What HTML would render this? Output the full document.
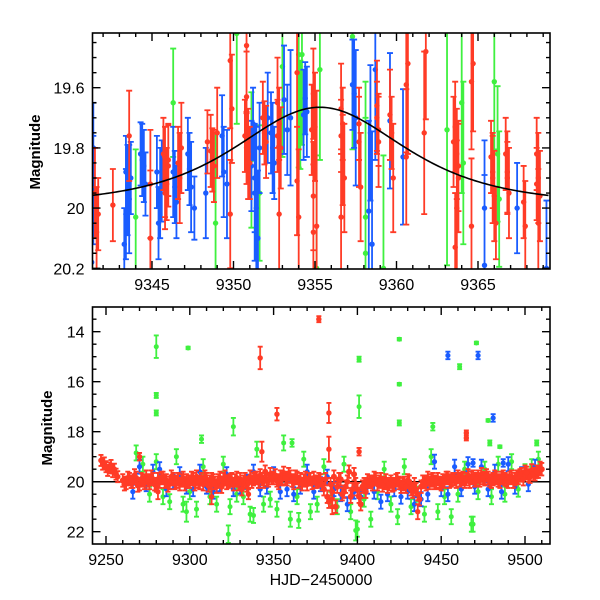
<!DOCTYPE html>
<html><head><meta charset="utf-8"><style>
html,body{margin:0;padding:0;background:#fff;}
svg{display:block;font-family:"Liberation Sans",sans-serif;}
</style></head><body>
<svg id="chart" width="600" height="600" viewBox="0 0 600 600">
<defs>
<clipPath id="clipTop"><rect x="92.5" y="33" width="457.5" height="236"/></clipPath>
<clipPath id="clipBot"><rect x="92.5" y="307" width="457.5" height="237"/></clipPath>
</defs>
<g id="top"></g>
<g id="bot"></g>
</svg>
<script>
// ---------- TOP PANEL DATA ----------
const topBlueT=[9341.4,9341.4,9341.3,9343.4,9343.5,9343.4,9343.6,9343.3,9344.3,9344.5,9344.6,9345.3,9345.5,9345.4,9346.3,9346.5,9347.2,9347.4,9347.6,9348.3,9349.3,9349.4,9349.6,9351.1,9351.3,9351.4,9351.2,9351.6,9352.3,9352.5,9352.1,9353.1,9353.3,9353.5,9354.3,9354.4,9354.5,9357.3,9357.4,9357.5,9358.7,9358.4,9358.3,9358.5,9359.6,9360.4,9365.4,9365.4,9367.4,9369.2,9343.7,9344.4,9345.6,9346.4,9347.3,9351.5,9351.3,9352.4];
const topBlueM=[19.80,19.94,20.18,19.88,19.94,20.02,19.97,20.12,19.82,19.86,19.92,19.88,19.95,20.05,19.88,19.98,19.82,19.93,20.00,19.95,19.76,19.88,19.92,19.86,19.95,20.00,19.72,19.80,19.75,19.85,19.70,19.64,19.74,19.70,19.69,19.635,19.68,19.59,19.62,19.70,19.54,19.75,20.01,20.12,19.71,19.83,20.00,20.19,20.00,20.20,19.90,19.84,19.91,19.93,19.87,20.10,19.90,19.80];
const topBlueE=[0.10,0.12,0.15,0.08,0.10,0.10,0.12,0.08,0.07,0.08,0.07,0.08,0.10,0.08,0.10,0.08,0.08,0.10,0.07,0.10,0.09,0.10,0.12,0.10,0.15,0.18,0.08,0.10,0.09,0.08,0.10,0.12,0.10,0.15,0.10,0.08,0.10,0.10,0.12,0.15,0.20,0.15,0.20,0.25,0.15,0.15,0.15,0.20,0.10,0.15,0.08,0.08,0.09,0.08,0.08,0.15,0.12,0.10];
const topRedT=[9341.6,9341.7,9341.5,9342.6,9343.6,9344.9,9344.9,9345.7,9345.8,9345.9,9346.0,9346.7,9346.6,9346.8,9348.4,9348.6,9348.8,9349.0,9349.8,9349.8,9349.9,9350.8,9350.8,9350.7,9350.9,9351.0,9351.8,9351.9,9352.0,9352.7,9352.8,9352.9,9352.8,9353.9,9353.9,9354.0,9354.9,9354.9,9354.8,9354.9,9355.0,9355.1,9356.6,9356.6,9356.7,9356.6,9356.8,9357.7,9357.7,9357.8,9358.8,9358.8,9358.9,9359.6,9359.7,9359.8,9360.6,9360.7,9360.6,9361.8,9361.7,9363.6,9363.7,9363.8,9363.7,9363.6,9364.6,9364.7,9364.6,9365.8,9365.9,9366.0,9366.1,9366.7,9366.8,9366.9,9367.9,9367.8,9368.6,9368.7,9368.8,9368.7,9345.8,9346.0,9348.7,9350.8,9352.7,9356.7,9358.9,9363.8,9363.5,9365.9,9366.8,9368.6];
const topRedM=[20.08,20.02,19.95,19.99,19.76,20.10,19.92,19.82,19.88,19.92,19.86,19.90,19.85,19.80,19.78,19.81,19.86,19.75,19.51,20.02,19.67,19.46,19.63,19.76,19.82,19.85,19.70,19.75,19.78,19.65,19.72,19.80,20.02,19.55,19.91,20.03,19.96,20.08,19.74,19.62,19.73,20.06,19.76,19.67,19.84,20.03,19.90,19.72,19.78,19.93,19.66,19.70,19.78,19.69,19.75,19.90,19.59,19.52,19.83,19.48,19.75,19.73,19.82,19.90,20.00,20.13,19.58,19.52,20.06,19.83,19.90,19.96,20.05,19.82,19.88,19.95,20.06,19.98,19.82,19.90,19.96,20.05,19.95,19.84,19.84,19.80,19.76,19.72,19.74,19.86,19.78,19.88,19.90,19.92];
const topRedE=[0.10,0.08,0.10,0.08,0.10,0.15,0.12,0.08,0.10,0.08,0.09,0.10,0.08,0.10,0.07,0.08,0.08,0.10,0.15,0.12,0.12,0.15,0.10,0.08,0.10,0.08,0.08,0.07,0.08,0.10,0.08,0.09,0.15,0.12,0.12,0.15,0.12,0.15,0.10,0.10,0.12,0.30,0.08,0.10,0.10,0.15,0.12,0.08,0.10,0.12,0.10,0.08,0.10,0.10,0.08,0.12,0.15,0.20,0.15,0.15,0.18,0.10,0.10,0.12,0.15,0.12,0.15,0.15,0.15,0.08,0.10,0.10,0.08,0.08,0.09,0.10,0.10,0.08,0.08,0.10,0.10,0.12,0.08,0.08,0.07,0.08,0.08,0.08,0.08,0.10,0.10,0.08,0.08,0.08];
const topGreenT=[9344.0,9346.3,9348.9,9350.2,9351.1,9351.6,9353.0,9354.0,9354.1,9355.1,9354.2,9355.3,9357.3,9358.1,9358.1,9359.2,9363.1,9364.0,9364.1,9366.0,9366.2,9366.3];
const topGreenM=[20.03,19.65,20.05,19.42,19.84,19.95,19.53,19.49,19.69,20.20,19.49,19.54,19.43,20.03,20.15,20.20,19.74,19.65,19.85,19.58,19.82,19.97];
const topGreenE=[0.15,0.12,0.20,0.20,0.15,0.15,0.20,0.25,0.12,0.25,0.20,0.20,0.25,0.30,0.30,0.25,0.30,0.20,0.18,0.15,0.15,0.15];

// ---------- BOTTOM PANEL DATA ----------
const botRedRampT=[9247,9248,9249,9250,9251,9252,9253,9254,9255,9256,9257];
const botRedRampM=[19.15,19.3,19.25,19.4,19.55,19.45,19.35,19.6,19.5,19.7,19.8];
const botRedAT=[];for(let t=9260;t<=9510;t+=2)botRedAT.push(t);
const botRedAM=[19.95,20.05,19.9,20.0,19.85,20.1,19.95,19.8,20.05,19.9,20.15,20.0,19.85,19.95,20.05,19.9,20.0,20.1,19.85,19.95,
20.0,19.9,19.8,20.05,20.1,19.9,20.0,19.95,20.2,19.85,19.9,20.05,19.95,20.1,19.85,19.9,20.0,20.15,19.8,19.9,
19.85,19.75,20.0,19.9,19.7,19.85,19.95,19.8,19.65,19.9,19.8,20.05,19.85,19.9,19.95,20.1,19.9,19.85,20.0,19.95,
20.3,20.6,20.1,19.8,20.2,19.9,20.4,20.0,20.6,19.7,20.3,20.9,20.1,19.95,20.0,19.85,20.1,19.9,20.05,20.2,
20.0,20.1,19.9,20.2,20.05,19.95,20.3,20.1,20.5,20.2,20.0,19.85,19.95,20.05,19.9,20.1,20.0,19.85,19.95,19.9,
19.8,19.9,20.0,19.75,19.85,19.95,19.8,19.7,19.9,19.85,20.0,19.8,19.95,19.85,19.9,20.0,19.8,19.9,19.85,19.7,
19.6,19.75,19.55,19.7,19.6,19.5];
const botRedBT=[];for(let t=9261;t<=9509;t+=2)botRedBT.push(t);
const botRedBM=[20.1,19.85,20.0,19.75,20.15,19.9,20.05,19.95,19.8,20.1,19.9,19.85,20.0,20.15,19.8,20.05,19.9,19.95,20.1,20.0,
19.85,20.1,20.0,19.9,19.8,20.15,19.9,20.05,19.95,20.2,19.8,20.0,19.9,19.95,20.1,20.3,19.9,20.05,20.0,19.85,
20.0,19.9,19.6,19.95,19.85,19.75,20.05,19.9,19.85,19.7,19.95,19.8,20.0,20.1,19.85,19.9,20.05,20.0,19.9,20.1,
19.9,20.8,20.4,21.0,19.9,20.5,20.2,19.6,20.3,20.1,20.6,20.2,20.4,20.0,20.1,19.9,20.0,20.15,19.95,20.1,
20.15,19.95,20.05,20.1,20.2,20.0,20.4,20.3,20.7,20.0,20.1,20.05,19.9,20.0,20.05,19.95,19.85,20.0,19.9,20.0,
19.95,19.85,19.9,20.0,19.8,19.9,19.95,19.85,19.75,19.95,19.9,19.85,20.0,19.8,19.95,19.85,20.0,19.8,19.75,19.9,
19.65,19.8,19.7,19.6,19.45];
const botRedOutT=[9377,9342,9352,9383,9383,9343,9465,9465,9401,9436,9385,9270,9281,9313,9335];
const botRedOutM=[13.5,15.05,17.3,17.25,18.7,18.8,18.05,18.25,18.8,21.2,21.0,19.0,20.4,20.6,20.5];
const botRedOutE=[0.12,0.45,0.25,0.4,0.5,0.4,0.1,0.1,0.15,0.3,0.3,0.15,0.3,0.3,0.2];
const botBlueT=[];for(let t=9266;t<=9506;t+=4)botBlueT.push(t);
const botBlueM=[20.4,19.4,20.1,19.6,19.5,20.3,20.0,19.7,20.2,20.3,
19.6,20.2,20.4,20.1,19.7,20.3,20.2,20.0,19.6,20.3,
20.2,19.7,20.4,20.3,20.5,20.2,19.6,20.4,20.1,19.8,
20.3,20.5,20.9,20.4,20.6,20.2,20.4,20.8,20.5,20.3,
20.6,20.4,20.9,20.7,20.5,19.2,20.3,20.5,19.4,20.3,
19.3,20.2,19.4,20.3,19.6,20.4,19.3,20.2,19.7,20.1,19.4];
const botBlueOutT=[9454,9472,9481,9469,9487];
const botBlueOutM=[14.95,14.95,17.45,19.25,19.25];
const botGreenT=[];for(let t=9268;t<=9508;t+=4)botGreenT.push(t);
const botGreenM=[18.85,19.3,20.5,19.2,20.6,20.8,19.0,20.9,20.4,21.1,
19.4,20.6,20.9,19.3,21.0,20.5,20.6,21.3,18.7,20.9,
20.7,21.1,18.45,21.5,20.6,19.1,21.2,20.9,19.4,20.7,
21.0,19.3,21.2,21.9,20.7,21.5,20.4,19.5,20.9,21.4,
19.4,21.0,20.5,21.3,19.0,21.2,20.6,21.4,20.5,19.5,
21.7,20.4,19.5,20.6,19.3,20.5,19.2,20.3,19.6,19.4,19.1];
const botGreenOutT=[9280,9280,9280,9299,9307,9326,9361,9401,9401,9425,9425,9425,9445,9461,9471,9478,9479,9485,9507,9323,9399,9469,9365,9338,9298];
const botGreenOutM=[14.6,16.55,17.25,14.65,18.3,17.8,18.45,15.1,17.0,14.3,16.1,17.65,17.8,15.4,14.45,17.55,18.45,18.6,18.45,22.1,21.95,21.7,21.55,21.35,21.2];
const botGreenOutE=[0.45,0.1,0.1,0.05,0.15,0.35,0.15,0.1,0.45,0.05,0.05,0.1,0.15,0.1,0.05,0.05,0.1,0.05,0.1,0.35,0.4,0.3,0.3,0.3,0.4];

const topXTicks=[9345,9350,9355,9360,9365];
const topYTicks=[19.6,19.8,20,20.2];
const botXTicks=[9250,9300,9350,9400,9450,9500];
const botYTicks=[14,16,18,20,22];

const RED='#ff3b26',BLUE='#1a5cff',GREEN='#3ff03f';
const NS='http://www.w3.org/2000/svg';
function mk(tag,attrs,parent){const e=document.createElementNS(NS,tag);for(const k in attrs)e.setAttribute(k,attrs[k]);parent.appendChild(e);return e;}

const xTop=t=>152+(t-9345)*16.3;
const yTop=m=>87.7+(m-19.6)*301;
const xBot=t=>106+(t-9250)*1.676;
const yBot=m=>481.7+(m-20)*25;
const TOP_ERR_SCALE=1.5;

const gTop=document.getElementById('top');
const gBot=document.getElementById('bot');

function frame(g,x0,y0,x1,y1,xs,ys,xMin,xMax,xMaj,xMin_,yMin,yMax,yMaj,yMinStep,xLabels,yLabels,name){
  const ax=mk('g',{},g);
  
  
  let d='';
  for(let v=Math.ceil(xMin/xMin_)*xMin_;v<=xMax+1e-9;v+=xMin_){
    const x=xs(v);if(x<x0||x>x1)continue;
    const maj=Math.abs(v/xMaj-Math.round(v/xMaj))<1e-6;const L=maj?8:4;
    d+=`M${x},${y1}v${-L}M${x},${y0}v${L}`;
  }
  for(let v=Math.ceil(yMin/yMinStep)*yMinStep;v<=yMax+1e-9;v+=yMinStep){
    const y=ys(v);if(y<y0||y>y1)continue;
    const maj=Math.abs(v/yMaj-Math.round(v/yMaj))<1e-6;const L=maj?8:4;
    d+=`M${x0},${y}h${L}M${x1},${y}h${-L}`;
  }
  const tk=mk('path',{d:d,stroke:'#000','stroke-width':1.4,fill:'none'},ax);
  
  
  const r=mk('rect',{x:x0,y:y0,width:x1-x0,height:y1-y0,fill:'none',stroke:'#000','stroke-width':1.6},ax);
  
  
  xLabels.forEach(v=>{
    const t=mk('text',{x:xs(v),y:y1+21,'text-anchor':'middle','font-size':16},ax);
    
    
    t.textContent=String(v);
  });
  yLabels.forEach(v=>{
    const t=mk('text',{x:x0-8,y:ys(v)+6,'text-anchor':'end','font-size':16},ax);
    
    
    t.textContent=String(v);
  });
}

function drawSeries(g,T,M,E,eConst,xs,ys,color,r,cap,name,scale){
  const s=mk('g',{fill:color,stroke:color},g);
  
  
  const sc=scale||1;
  let d='';
  for(let i=0;i<T.length;i++){
    const e=(E?E[i]:eConst)*sc;const x=xs(T[i]);const ya=ys(M[i]-e),yb=ys(M[i]+e);
    d+=`M${x},${ya}V${yb}M${x-cap},${ya}h${2*cap}M${x-cap},${yb}h${2*cap}`;
  }
  mk('path',{d:d,'stroke-width':1.8,fill:'none'},s);
  for(let i=0;i<T.length;i++){
    const c=mk('circle',{cx:xs(T[i]),cy:ys(M[i]),r:r,stroke:'none'},s);
    
    
  }
}

// ---- TOP PANEL ----
const topData=mk('g',{'clip-path':'url(#clipTop)'},gTop);


drawSeries(topData,topGreenT,topGreenM,topGreenE,0,xTop,yTop,GREEN,2.7,3,'green-series-top',TOP_ERR_SCALE);
drawSeries(topData,topBlueT,topBlueM,topBlueE,0,xTop,yTop,BLUE,2.7,3,'blue-series-top',TOP_ERR_SCALE);
drawSeries(topData,topRedT,topRedM,topRedE,0,xTop,yTop,RED,2.7,3,'red-series-top',TOP_ERR_SCALE);
let cd='';
for(let px=92.5;px<=550;px+=2){
  const t=9345+(px-152)/16.3;const u=(t-9355.3)/9.5;
  const m=19.99-0.325/Math.pow(1+u*u,2);
  cd+=(cd?'L':'M')+px+','+yTop(m);
}
const curve=mk('path',{d:cd,stroke:'#000','stroke-width':1.6,fill:'none'},topData);


frame(gTop,92.5,33,550,269,xTop,yTop,9341,9370,5,1,19.4,20.25,0.2,0.05,topXTicks,topYTicks,'top');
const yl1=mk('text',{x:0,y:0,transform:'translate(40,152) rotate(-90)','text-anchor':'middle','font-size':15,'font-weight':'bold'},gTop);


yl1.textContent='Magnitude';

// ---- BOTTOM PANEL ----
const botData=mk('g',{'clip-path':'url(#clipBot)'},gBot);


const base=mk('line',{x1:92.5,x2:550,y1:yBot(20),y2:yBot(20),stroke:'#000','stroke-width':1.5},botData);


drawSeries(botData,botGreenT,botGreenM,null,0.3,xBot,yBot,GREEN,2.5,2.5,'green-series');
drawSeries(botData,botGreenOutT,botGreenOutM,botGreenOutE,0,xBot,yBot,GREEN,2.5,2.5,'green-outliers');
drawSeries(botData,botBlueT,botBlueM,null,0.28,xBot,yBot,BLUE,2.6,2.5,'blue-series');
drawSeries(botData,botBlueOutT,botBlueOutM,null,0.15,xBot,yBot,BLUE,2.6,2.5,'blue-outliers');
drawSeries(botData,botRedRampT,botRedRampM,null,0.22,xBot,yBot,RED,2.8,2.5,'red-ramp');
drawSeries(botData,botRedAT,botRedAM,null,0.25,xBot,yBot,RED,3,2.5,'red-series-a');
drawSeries(botData,botRedBT,botRedBM,null,0.25,xBot,yBot,RED,3,2.5,'red-series-b');
drawSeries(botData,botRedOutT,botRedOutM,botRedOutE,0,xBot,yBot,RED,2.7,2.5,'red-outliers');
frame(gBot,92.5,307,550,544,xBot,yBot,9240,9520,50,10,13,22.5,2,0.5,botXTicks,botYTicks,'bottom');
const yl2=mk('text',{x:0,y:0,transform:'translate(52,428) rotate(-90)','text-anchor':'middle','font-size':15,'font-weight':'bold'},gBot);


yl2.textContent='Magnitude';
const xl=mk('text',{x:321,y:585,'text-anchor':'middle','font-size':16},gBot);


xl.textContent='HJD\u22122450000';
</script>
</body></html>
